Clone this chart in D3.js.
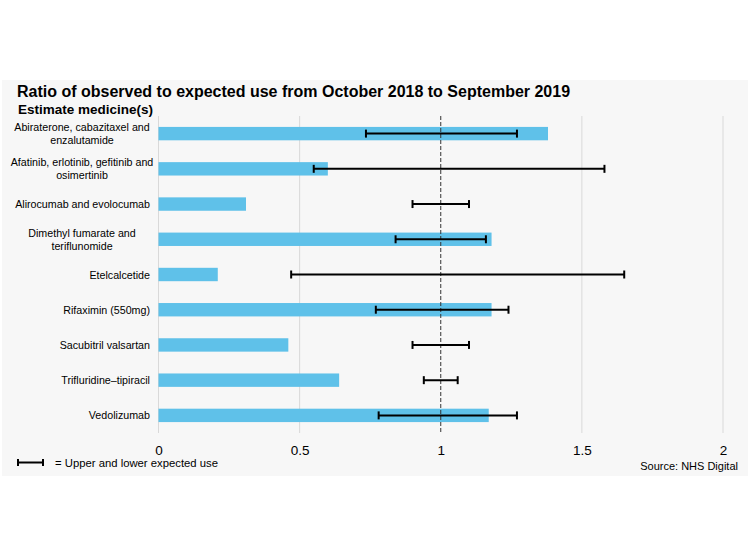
<!DOCTYPE html>
<html><head><meta charset="utf-8">
<script src="https://cdn.jsdelivr.net/npm/d3@7"></script>
<style>body{margin:0;background:#fff;font-family:"Liberation Sans",Arial,sans-serif;}</style>
</head><body>
<svg id="c" width="748" height="554"></svg>
<script>
const categories = [
  "Abiraterone, cabazitaxel and|enzalutamide",
  "Afatinib, erlotinib, gefitinib and|osimertinib",
  "Alirocumab and evolocumab",
  "Dimethyl fumarate and|teriflunomide",
  "Etelcalcetide",
  "Rifaximin (550mg)",
  "Sacubitril valsartan",
  "Trifluridine\u2013tipiracil",
  "Vedolizumab"
];
const ratio = [1.38, 0.60, 0.31, 1.18, 0.21, 1.18, 0.46, 0.64, 1.17];
const lower = [0.735, 0.55, 0.90, 0.84, 0.47, 0.77, 0.90, 0.94, 0.78];
const upper = [1.27, 1.58, 1.10, 1.16, 1.65, 1.24, 1.10, 1.06, 1.27];
const xTicks = [0, 0.5, 1, 1.5, 2];
const xTickLabels = ["0", "0.5", "1", "1.5", "2"];

const svg = d3.select("#c");
svg.append("rect").attr("x",2).attr("y",80).attr("width",746).attr("height",396).attr("fill","#f7f7f7");

const x = d3.scaleLinear().domain([0,2]).range([158.5,723]);
const y = d3.scaleBand().domain(categories).range([116,433]).paddingInner(0.62).paddingOuter(0.31);

// gridlines
svg.append("g").selectAll("line").data(xTicks.filter(d=>d!==1)).join("line")
  .attr("x1",d=>x(d)).attr("x2",d=>x(d)).attr("y1",116).attr("y2",433)
  .attr("stroke","#d9d9d9").attr("stroke-width",1);

// bars
svg.append("g").selectAll("rect").data(categories).join("rect")
  .attr("x",x(0)).attr("y",d=>y(d)).attr("height",y.bandwidth())
  .attr("width",(d,i)=>x(ratio[i])-x(0)).attr("fill","#5fc1e9");

// reference line at 1
svg.append("line").attr("x1",x(1)).attr("x2",x(1)).attr("y1",116).attr("y2",433)
  .attr("stroke","#333").attr("stroke-width",1).attr("stroke-dasharray","4,2");

// error bars
const eg = svg.append("g").attr("stroke","#000").attr("stroke-width",2);
categories.forEach((c,i)=>{
  const cy = y(c)+y.bandwidth()/2;
  eg.append("line").attr("x1",x(lower[i])).attr("x2",x(upper[i])).attr("y1",cy).attr("y2",cy);
  eg.append("line").attr("x1",x(lower[i])).attr("x2",x(lower[i])).attr("y1",cy-4).attr("y2",cy+4);
  eg.append("line").attr("x1",x(upper[i])).attr("x2",x(upper[i])).attr("y1",cy-4).attr("y2",cy+4);
});

// category labels
const lg = svg.append("g").attr("font-size","10.7px").attr("fill","#000");
categories.forEach(c=>{
  const lines = c.split("|");
  const cy = y(c)+y.bandwidth()/2;
  const t = lg.append("text");
  lines.forEach((l,j)=>{
    t.append("tspan").attr("x", lines.length===1 ? 150 : 82).attr("text-anchor", lines.length===1?"end":"middle")
     .attr("y", cy + 4 + (j - (lines.length-1)/2)*13).text(l);
  });
});

// x axis
const ax = d3.axisBottom(x).tickValues(xTicks).tickFormat((d,i)=>xTickLabels[i]).tickSize(0).tickPadding(8);
const axg = svg.append("g").attr("transform","translate(0,437)").call(ax);
axg.select(".domain").remove();
axg.selectAll("text").attr("font-size","13.5px").attr("font-family","Liberation Sans, Arial, sans-serif").attr("fill","#000");

// titles
svg.append("text").attr("x",17).attr("y",97).attr("font-size","16px").attr("font-weight","bold").text("Ratio of observed to expected use from October 2018 to September 2019");
svg.append("text").attr("x",18).attr("y",114).attr("font-size","13.5px").attr("font-weight","bold").text("Estimate medicine(s)");

// legend
const lgd = svg.append("g").attr("stroke","#000").attr("stroke-width",2);
lgd.append("line").attr("x1",18).attr("x2",43).attr("y1",462.5).attr("y2",462.5);
lgd.append("line").attr("x1",18).attr("x2",18).attr("y1",459).attr("y2",466);
lgd.append("line").attr("x1",43).attr("x2",43).attr("y1",459).attr("y2",466);
svg.append("text").attr("x",55).attr("y",467).attr("font-size","11.3px").text("= Upper and lower expected use");
svg.append("text").attr("x",738).attr("y",470).attr("text-anchor","end").attr("font-size","11px").text("Source: NHS Digital");
</script>
</body></html>
